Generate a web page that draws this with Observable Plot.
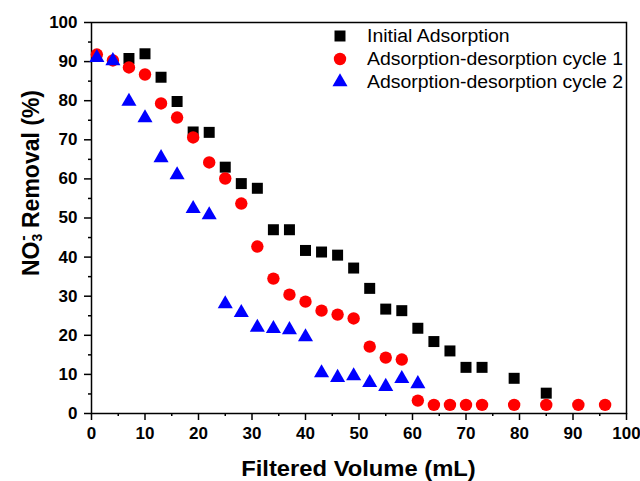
<!DOCTYPE html>
<html><head><meta charset="utf-8">
<script src="https://cdn.jsdelivr.net/npm/d3@7"></script>
<script src="https://cdn.jsdelivr.net/npm/@observablehq/plot@0.6"></script>
<style>
body{margin:0;background:#fff;}
#chart{position:relative;width:640px;height:481px;}
#chart svg text{fill:#000;}
g[aria-label="x-axis tick label"] text, g[aria-label="y-axis tick label"] text{font-weight:bold;}
</style>
</head><body><div id="chart"></div>
<script>
const seriesNames = ["Initial Adsorption","Adsorption-desorption cycle 1","Adsorption-desorption cycle 2"];
const seriesColors = ["#000000","#ff0000","#0000ff"];

const xInitial = [7,10,13,16,19,22,25,28,31,34,37,40,43,46,49,52,55,58,61,64,67,70,73,79,85];
const yInitial = [90.8,92,86,79.8,72,71.9,63,58.8,57.6,47,47,41.7,41.3,40.5,37.2,32,26.7,26.3,21.8,18.4,16,11.8,11.8,9,5.2];

const xCycle1 = [1,4,7,10,13,16,19,22,25,28,31,34,37,40,43,46,49,52,55,58,61,64,67,70,73,79,85,91,96];
const yCycle1 = [91.8,90.3,88.5,86.7,79.3,75.7,70.6,64.2,60.1,53.7,42.7,34.5,30.4,28.6,26.3,25.3,24.3,17.1,14.3,13.8,3.3,2.2,2.2,2.2,2.2,2.2,2.2,2.2,2.2];

const xCycle2 = [1,4,7,10,13,16,19,22,25,28,31,34,37,40,43,46,49,52,55,58,61];
const yCycle2 = [91,90.2,79.8,75.6,65.4,61,52.4,50.8,28,25.8,22,21.7,21.4,19.6,10.4,9.2,9.6,7.9,6.9,8.9,7.6];

const xMajor = [0,10,20,30,40,50,60,70,80,90,100];
const xMinor = [5,15,25,35,45,55,65,75,85,95];
const yMajor = [0,10,20,30,40,50,60,70,80,90,100];
const yMinor = [5,15,25,35,45,55,65,75,85,95];

const zip = (xs, ys) => xs.map((x, i) => ({x, y: ys[i]}));
const initial = zip(xInitial, yInitial);
const cycle1 = zip(xCycle1, yCycle1);
const cycle2 = zip(xCycle2, yCycle2);

const W = 640, H = 481, mL = 91, mR = 14, mT = 22, mB = 68;
const font = "'Liberation Sans', Arial, sans-serif";
const stretch = 1.08;

const plot = Plot.plot({
  width: W, height: H,
  marginLeft: mL, marginRight: mR, marginTop: mT, marginBottom: mB,
  style: {fontFamily: font, background: "white", color: "black", overflow: "visible"},
  x: {domain: [0, 100]},
  y: {domain: [0, 100]},
  marks: [
    Plot.axisX(xMinor, {tickSize: 3, tickFormat: () => "", label: null, strokeWidth: 1.5}),
    Plot.axisX(xMajor, {tickSize: 7, tickPadding: 6, fontSize: 17, fontWeight: "bold", label: null, strokeWidth: 1.5}),
    Plot.axisY(yMinor, {tickSize: 3, tickFormat: () => "", label: null, strokeWidth: 1.5}),
    Plot.axisY(yMajor, {tickSize: 7, tickPadding: 7, fontSize: 17, fontWeight: "bold", label: null, strokeWidth: 1.5}),
    Plot.frame({stroke: "black", strokeWidth: 1.5}),
    Plot.dot(initial, {x: "x", y: "y", symbol: "square", r: 6.2, fill: seriesColors[0], stroke: "none"}),
    Plot.dot(cycle1, {x: "x", y: "y", symbol: "circle", r: 6.2, fill: seriesColors[1], stroke: "none"}),
    Plot.dot(cycle2, {x: "x", y: "y", symbol: "triangle", r: 5.6, fill: seriesColors[2], stroke: "none"})
  ]
});
document.getElementById("chart").appendChild(plot);

const svg = d3.select(plot);
function widen(sel) {
  const n = sel.node();
  const w = n.getComputedTextLength();
  sel.attr("textLength", w * stretch).attr("lengthAdjust", "spacingAndGlyphs");
}
// X axis title
const xt = svg.append("text")
  .attr("x", (mL + (W - mR)) / 2).attr("y", 468)
  .attr("text-anchor", "middle").attr("dominant-baseline", "central")
  .attr("font-family", font).attr("font-size", 22).attr("font-weight", "bold")
  .text("Filtered Volume (mL)");
widen(xt);
// Y axis title with subscript / superscript
const yt = svg.append("text")
  .attr("transform", "translate(31,183) rotate(-90)")
  .attr("text-anchor", "middle").attr("dominant-baseline", "central")
  .attr("font-family", font).attr("font-size", 23).attr("font-weight", "bold");
yt.append("tspan").text("NO");
yt.append("tspan").attr("font-size", 14).attr("dy", 6).text("3");
yt.append("tspan").attr("font-size", 16).attr("dx", -7).attr("dy", -15).text("-");
yt.append("tspan").attr("dx", 1).attr("dy", 9).text(" Removal (%)");

// Legend
const symbols = [d3.symbolSquare, d3.symbolCircle, d3.symbolTriangle];
const radii = [6.2, 6.2, 5.6];
const lg = svg.append("g");
seriesNames.forEach((name, i) => {
  const y = 36 + i * 23;
  lg.append("path")
    .attr("transform", `translate(340,${y})`)
    .attr("d", d3.symbol(symbols[i], Math.PI * radii[i] * radii[i])())
    .attr("fill", seriesColors[i]);
  const t = lg.append("text")
    .attr("x", 367).attr("y", y)
    .attr("text-anchor", "start")
    .attr("dominant-baseline", "central")
    .attr("font-family", font).attr("font-size", 18)
    .text(name);
  widen(t);
});
</script>
</body></html>
